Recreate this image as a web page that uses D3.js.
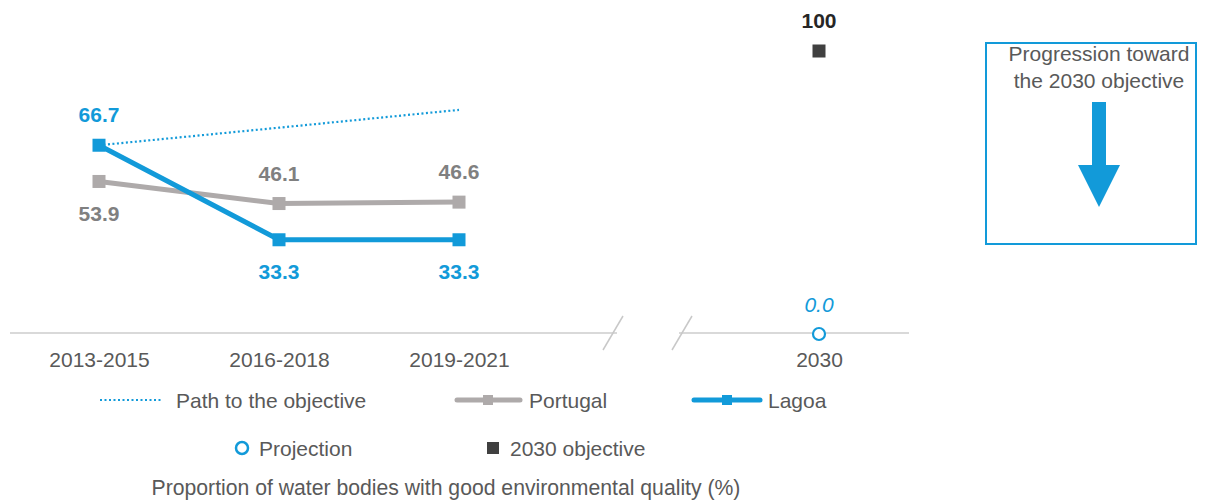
<!DOCTYPE html>
<html><head><meta charset="utf-8">
<script src="https://cdn.jsdelivr.net/npm/d3@7"></script>
<style>body{margin:0;background:#fff}text{font-family:"Liberation Sans",Arial,sans-serif}</style>
</head><body><svg id="c" width="1213" height="500"></svg>
<script>
const categories = ["2013-2015","2016-2018","2019-2021"];
const targetLabel = "2030";
const portugal = [53.9, 46.1, 46.6];
const lagoa = [66.7, 33.3, 33.3];
const pathToObjective = [66.7, 72.9, 79.2];
const objective2030 = [100];
const projection2030 = [0.0];
const BLUE = "#129ad9", GRAY = "#aeaaaa", GRAYTXT = "#808080", TXT = "#595959";

const svg = d3.select("#c");
const x = d3.scaleLinear().domain([0,4]).range([99,819]);
const y = d3.scaleLinear().domain([0,100]).range([334,51]);
const FS = 21;

// axis line with break
const axY = y(0) - 1;
svg.append("line").attr("x1",10).attr("x2",617).attr("y1",axY).attr("y2",axY).attr("stroke","#d9d9d9").attr("stroke-width",2);
svg.append("line").attr("x1",679).attr("x2",909).attr("y1",axY).attr("y2",axY).attr("stroke","#d9d9d9").attr("stroke-width",2);
[613,682].forEach(cx=>{
  svg.append("line").attr("x1",cx-10).attr("x2",cx+10).attr("y1",axY+17).attr("y2",axY-17).attr("stroke","#c8c8c8").attr("stroke-width",1.5);
});

// tick labels via axis
const tickVals = [0,1,2,4];
const ax = d3.axisBottom(x).tickValues(tickVals).tickSize(0).tickPadding(0)
  .tickFormat(i => i===4 ? targetLabel : categories[i]);
const g = svg.append("g").attr("transform",`translate(0,${axY})`).call(ax);
g.select(".domain").remove();
g.selectAll("text").attr("font-family","Liberation Sans, Arial, sans-serif").attr("font-size",FS).attr("fill",TXT).attr("dy",null).attr("y",34);

// path to objective (dotted)
const line = d3.line().x((d,i)=>x(i)).y(d=>y(d));
svg.append("path").datum(pathToObjective).attr("d",line).attr("fill","none").attr("stroke",BLUE).attr("stroke-width",2.2).attr("stroke-dasharray","2,2.5");

// Portugal
svg.append("path").datum(portugal).attr("d",line).attr("fill","none").attr("stroke",GRAY).attr("stroke-width",5);
svg.selectAll(".pm").data(portugal).enter().append("rect").attr("x",(d,i)=>x(i)-6.5).attr("y",d=>y(d)-6.5).attr("width",13).attr("height",13).attr("fill",GRAY);

// Lagoa
svg.append("path").datum(lagoa).attr("d",line).attr("fill","none").attr("stroke",BLUE).attr("stroke-width",5);
svg.selectAll(".lm").data(lagoa).enter().append("rect").attr("x",(d,i)=>x(i)-6.5).attr("y",d=>y(d)-6.5).attr("width",13).attr("height",13).attr("fill",BLUE);

// labels
const lagoaPos = ["above","below","below"];
const portPos = ["below","above","above"];
svg.selectAll(".ll").data(lagoa).enter().append("text")
  .attr("x",(d,i)=>x(i)).attr("y",(d,i)=>lagoaPos[i]==="above"? y(d)-23 : y(d)+39)
  .attr("text-anchor","middle").attr("font-size",FS).attr("font-weight","bold").attr("fill",BLUE).text(d=>d.toFixed(1));
svg.selectAll(".pl").data(portugal).enter().append("text")
  .attr("x",(d,i)=>x(i)).attr("y",(d,i)=>portPos[i]==="above"? y(d)-23 : y(d)+40)
  .attr("text-anchor","middle").attr("font-size",FS).attr("font-weight","bold").attr("fill",GRAYTXT).text(d=>d.toFixed(1));

// 2030 objective
svg.selectAll(".obj").data(objective2030).enter().append("rect").attr("x",x(4)-6.5).attr("y",d=>y(d)-6.5).attr("width",13).attr("height",13).attr("fill","#404040");
svg.selectAll(".objl").data(objective2030).enter().append("text").attr("x",x(4)).attr("y",d=>y(d)-23).attr("text-anchor","middle").attr("font-size",FS).attr("font-weight","bold").attr("fill","#262626").text(d=>d);

// projection
svg.selectAll(".proj").data(projection2030).enter().append("circle").attr("cx",x(4)).attr("cy",d=>y(d)).attr("r",6).attr("fill","#fff").attr("stroke",BLUE).attr("stroke-width",2.2);
svg.selectAll(".projl").data(projection2030).enter().append("text").attr("x",x(4)).attr("y",d=>y(d)-22).attr("text-anchor","middle").attr("font-size",FS).attr("font-style","italic").attr("fill",BLUE).text(d=>d.toFixed(1));

// legend row 1
const L1 = 400;
svg.append("line").attr("x1",100).attr("x2",163).attr("y1",L1).attr("y2",L1).attr("stroke",BLUE).attr("stroke-width",2.2).attr("stroke-dasharray","2,2.5");
svg.append("text").attr("x",176).attr("y",L1+7.5).attr("font-size",FS).attr("fill",TXT).text("Path to the objective");
svg.append("line").attr("x1",457).attr("x2",520).attr("y1",L1).attr("y2",L1).attr("stroke",GRAY).attr("stroke-width",5).attr("stroke-linecap","round");
svg.append("rect").attr("x",483).attr("y",L1-5).attr("width",10).attr("height",10).attr("fill",GRAY);
svg.append("text").attr("x",529).attr("y",L1+7.5).attr("font-size",FS).attr("fill",TXT).text("Portugal");
svg.append("line").attr("x1",694).attr("x2",760).attr("y1",L1).attr("y2",L1).attr("stroke",BLUE).attr("stroke-width",5).attr("stroke-linecap","round");
svg.append("rect").attr("x",722).attr("y",L1-5).attr("width",10).attr("height",10).attr("fill",BLUE);
svg.append("text").attr("x",768).attr("y",L1+7.5).attr("font-size",FS).attr("fill",TXT).text("Lagoa");

// legend row 2
const L2 = 448;
svg.append("circle").attr("cx",242).attr("cy",L2).attr("r",6).attr("fill","#fff").attr("stroke",BLUE).attr("stroke-width",2.5);
svg.append("text").attr("x",259).attr("y",L2+7.5).attr("font-size",FS).attr("fill",TXT).text("Projection");
svg.append("rect").attr("x",487).attr("y",L2-6).attr("width",12).attr("height",12).attr("fill","#404040");
svg.append("text").attr("x",510).attr("y",L2+7.5).attr("font-size",FS).attr("fill",TXT).text("2030 objective");

// title
svg.append("text").attr("x",446).attr("y",495).attr("text-anchor","middle").attr("font-size",21.2).attr("fill",TXT).text("Proportion of water bodies with good environmental quality (%)");

// progression box
svg.append("rect").attr("x",986).attr("y",43).attr("width",210).attr("height",201).attr("fill","#fff").attr("stroke",BLUE).attr("stroke-width",2);
svg.append("text").attr("x",1099).attr("y",61).attr("text-anchor","middle").attr("font-size",FS).attr("fill",TXT).text("Progression toward");
svg.append("text").attr("x",1099).attr("y",88).attr("text-anchor","middle").attr("font-size",FS).attr("fill",TXT).text("the 2030 objective");
svg.append("path").attr("d","M1092,102 L1106,102 L1106,165 L1120,165 L1099,207 L1078,165 L1092,165 Z").attr("fill",BLUE);
</script></body></html>
